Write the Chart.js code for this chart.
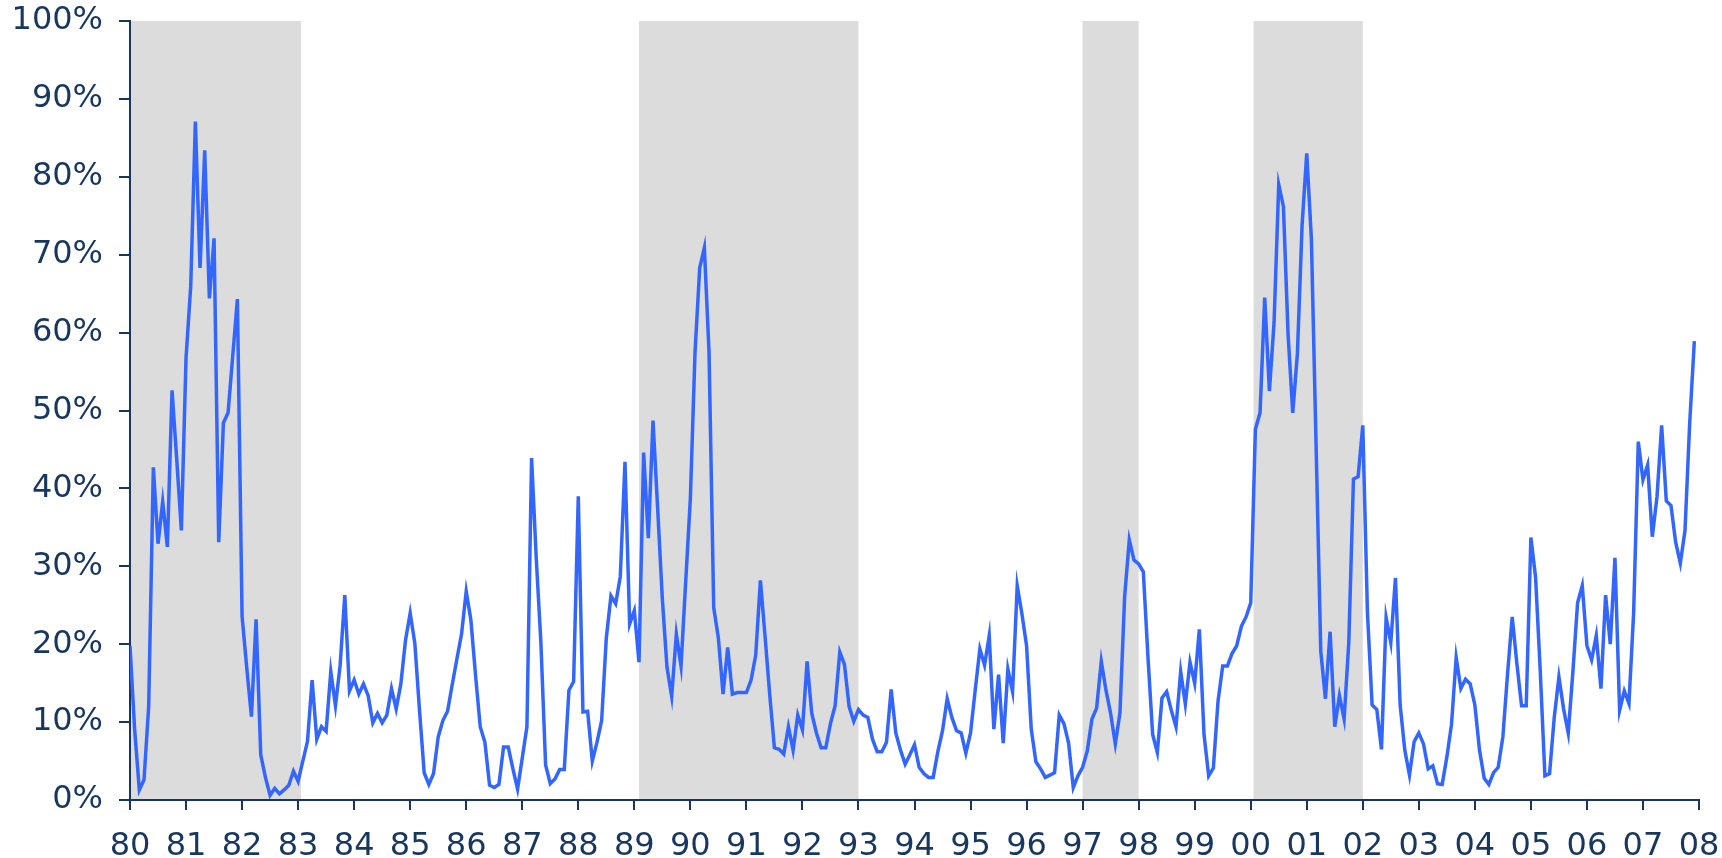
<!DOCTYPE html>
<html>
<head>
<meta charset="utf-8">
<title>Share, 1980–2007</title>
<script src="https://cdn.jsdelivr.net/npm/chart.js@4.4.1/dist/chart.umd.min.js"></script>
<style>
  html, body { margin: 0; padding: 0; background: #ffffff; }
  #wrap { width: 1722px; height: 858px; position: relative; }
</style>
</head>
<body>
<div id="wrap"><canvas id="chart" width="1722" height="858"></canvas></div>
<script>
// Monthly readings, Jan 1980 .. Dec 2007 (percent), one row per year
const v1980 = [19.8, 9.0, 1.3, 2.6, 12.0, 42.7, 32.9, 38.3, 32.5, 52.6, 43.8, 34.6];
const v1981 = [56.8, 65.9, 87.1, 68.3, 83.4, 64.4, 72.1, 33.1, 48.4, 49.7, 57.0, 64.3];
const v1982 = [23.6, 17.0, 10.7, 23.2, 5.8, 2.9, 0.6, 1.5, 0.8, 1.3, 1.9, 3.7];
const v1983 = [2.4, 5.0, 7.5, 15.4, 7.8, 9.4, 8.8, 16.5, 12.1, 17.3, 26.3, 14.0];
const v1984 = [15.4, 13.6, 14.9, 13.4, 9.9, 11.1, 9.9, 10.9, 14.3, 11.7, 14.9, 20.5];
const v1985 = [24.0, 20.1, 11.5, 3.5, 2.0, 3.4, 8.1, 10.2, 11.4, 14.8, 18.1, 21.3];
const v1986 = [26.8, 23.1, 16.0, 9.4, 7.4, 1.9, 1.6, 2.0, 6.8, 6.8, 4.0, 1.4];
const v1987 = [5.4, 9.4, 43.9, 31.0, 20.1, 4.5, 2.1, 2.7, 3.9, 3.9, 14.1, 15.2];
const v1988 = [39.0, 11.3, 11.4, 5.0, 7.4, 10.2, 20.8, 26.2, 25.2, 28.7, 43.4, 22.6];
const v1989 = [24.3, 17.7, 44.6, 33.6, 48.7, 37.4, 25.8, 17.0, 13.3, 21.3, 17.2, 28.0];
const v1990 = [38.7, 57.5, 68.3, 70.9, 57.5, 24.7, 20.8, 13.6, 19.6, 13.6, 13.8, 13.8];
const v1991 = [13.8, 15.4, 18.6, 28.2, 21.0, 13.5, 6.7, 6.5, 5.9, 9.4, 6.4, 10.9];
const v1992 = [9.0, 17.8, 11.1, 8.6, 6.7, 6.7, 9.8, 12.1, 19.0, 17.4, 12.0, 10.1];
const v1993 = [11.6, 10.9, 10.6, 7.8, 6.2, 6.2, 7.4, 14.2, 8.6, 6.4, 4.6, 5.8];
const v1994 = [7.1, 4.2, 3.4, 2.9, 2.9, 6.2, 8.9, 13.0, 10.6, 8.9, 8.6, 6.0];
const v1995 = [8.6, 14.1, 19.4, 17.3, 21.1, 9.1, 16.1, 7.3, 16.8, 13.9, 27.5, 23.9];
const v1996 = [19.8, 9.1, 4.9, 4.0, 2.9, 3.2, 3.5, 10.9, 9.8, 7.3, 1.6, 3.1];
const v1997 = [4.2, 6.3, 10.4, 11.8, 17.8, 14.1, 11.1, 7.2, 11.2, 26.1, 33.4, 30.8];
const v1998 = [30.3, 29.3, 18.3, 8.4, 6.1, 13.1, 13.9, 11.5, 9.4, 16.5, 12.3, 17.7];
const v1999 = [15.0, 21.9, 8.4, 3.1, 4.1, 12.7, 17.2, 17.2, 18.8, 19.8, 22.3, 23.5];
const v2000 = [25.3, 47.6, 49.7, 64.5, 52.5, 61.3, 79.0, 76.2, 59.8, 49.7, 57.3, 73.8];
const v2001 = [83.0, 71.9, 45.5, 19.1, 13.0, 21.6, 9.4, 13.4, 10.4, 20.2, 41.2, 41.5];
const v2002 = [48.1, 24.0, 12.2, 11.6, 6.5, 23.4, 20.2, 28.5, 12.2, 6.4, 3.2, 7.5];
const v2003 = [8.6, 7.2, 4.0, 4.4, 2.1, 2.0, 5.5, 9.7, 18.3, 14.3, 15.5, 14.9];
const v2004 = [12.2, 6.4, 2.8, 2.0, 3.5, 4.2, 8.1, 16.2, 23.5, 17.5, 12.1, 12.1];
const v2005 = [33.7, 28.6, 16.6, 3.1, 3.4, 10.6, 15.8, 11.7, 8.6, 16.5, 25.3, 27.5];
const v2006 = [19.8, 18.0, 21.1, 14.3, 26.3, 20.0, 31.1, 11.5, 14.0, 12.4, 24.0, 46.0];
const v2007 = [41.1, 43.0, 33.8, 38.9, 48.1, 38.4, 37.8, 33.1, 30.4, 34.6, 48.3, 58.9];

// Year tick labels, one per January from 1980 to 2008
const yearLabels = ['80','81','82','83','84','85','86','87','88','89','90','91','92','93',
  '94','95','96','97','98','99','00','01','02','03','04','05','06','07','08'];

// Shaded periods, in months counted from Jan 1980
const shadeStart = [0, 109, 204, 240.6];
const shadeEnd   = [36.6, 156, 216, 264];

const yTickValues = [0, 10, 20, 30, 40, 50, 60, 70, 80, 90, 100];

const monthly = [].concat(v1980, v1981, v1982, v1983, v1984, v1985, v1986, v1987,
  v1988, v1989, v1990, v1991, v1992, v1993, v1994, v1995, v1996, v1997, v1998,
  v1999, v2000, v2001, v2002, v2003, v2004, v2005, v2006, v2007);
const points = monthly.map((v, i) => ({ x: i, y: v }));

const NAVY = '#17375e';
const FONT = { family: "'DejaVu Sans', Verdana, sans-serif", size: 32 };

// Grey bands behind the line
const shading = {
  id: 'shading',
  beforeDraw(chart) {
    const { ctx, chartArea, scales } = chart;
    ctx.save();
    ctx.fillStyle = '#dcdcdc';
    for (let i = 0; i < shadeStart.length; i++) {
      const x0 = scales.x.getPixelForValue(shadeStart[i]);
      const x1 = scales.x.getPixelForValue(shadeEnd[i]);
      ctx.fillRect(x0, chartArea.top, x1 - x0, chartArea.bottom - chartArea.top);
    }
    ctx.restore();
  }
};

// Let the outer padding alone decide where the plot area sits
function noOverhang(s) {
  s.paddingTop = 0; s.paddingBottom = 0; s.paddingLeft = 0; s.paddingRight = 0;
}

new Chart(document.getElementById('chart'), {
  type: 'line',
  data: {
    datasets: [{
      data: points,
      borderColor: '#3366ff',
      borderWidth: 3.5,
      pointRadius: 0,
      tension: 0,
      fill: false
    }]
  },
  options: {
    responsive: false,
    animation: false,
    events: [],
    layout: { padding: { left: 0, right: 23, top: 21, bottom: 0 } },
    plugins: { legend: { display: false }, tooltip: { enabled: false } },
    scales: {
      x: {
        type: 'linear',
        min: 0,
        max: (yearLabels.length - 1) * 12,
        afterFit(s) { s.height = 58; noOverhang(s); },
        afterBuildTicks(s) { s.ticks = yearLabels.map((_, i) => ({ value: i * 12 })); },
        ticks: {
          autoSkip: false,
          maxRotation: 0,
          color: NAVY,
          font: FONT,
          padding: 17,
          callback: (v) => yearLabels[Math.round(v / 12)]
        },
        grid: { drawOnChartArea: false, drawTicks: true, tickLength: 10, color: NAVY, lineWidth: 2 },
        border: { display: true, color: NAVY, width: 2 }
      },
      y: {
        min: 0,
        max: 100,
        afterFit(s) { s.width = 130; noOverhang(s); },
        afterBuildTicks(s) { s.ticks = yTickValues.map(v => ({ value: v })); },
        ticks: {
          color: NAVY,
          font: FONT,
          padding: 16,
          callback: (v) => v + '%'
        },
        grid: { drawOnChartArea: false, drawTicks: true, tickLength: 11, color: NAVY, lineWidth: 2 },
        border: { display: true, color: NAVY, width: 2 }
      }
    }
  },
  plugins: [shading]
});
</script>
</body>
</html>
